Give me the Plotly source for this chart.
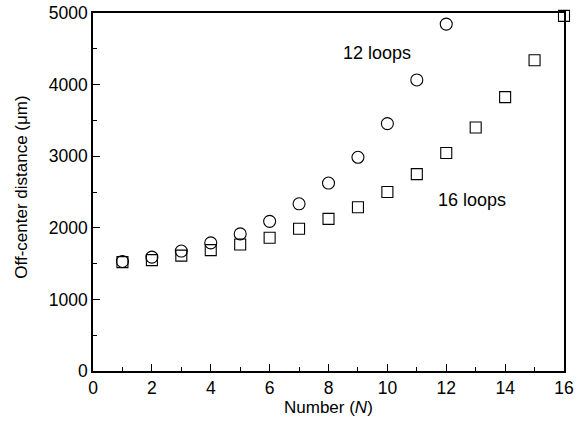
import plotly.graph_objects as go

n_12 = [1, 2, 3, 4, 5, 6, 7, 8, 9, 10, 11, 12]
d_12 = [1530, 1590, 1675, 1790, 1915, 2090, 2335, 2625, 2985, 3455, 4065, 4845]

n_16 = [1, 2, 3, 4, 5, 6, 7, 8, 9, 10, 11, 12, 13, 14, 15, 16]
d_16 = [1520, 1548, 1612, 1688, 1767, 1860, 1986, 2125, 2288, 2500, 2750, 3045, 3400, 3825, 4340, 4960]

x_ticks = [0, 2, 4, 6, 8, 10, 12, 14, 16]
y_ticks = [0, 1000, 2000, 3000, 4000, 5000]

font = "Liberation Sans, Arial, sans-serif"

fig = go.Figure()
fig.add_trace(go.Scatter(
    x=n_12, y=d_12, mode="markers", name="12 loops",
    marker=dict(symbol="circle-open", size=12, color="black", line=dict(width=1.1)),
    cliponaxis=False,
))
fig.add_trace(go.Scatter(
    x=n_16, y=d_16, mode="markers", name="16 loops",
    marker=dict(symbol="square-open", size=11, color="black", line=dict(width=1.1)),
    cliponaxis=False,
))

fig.add_annotation(x=9.64, y=4445, text="12 loops", showarrow=False,
                   font=dict(family=font, size=18, color="black"))
fig.add_annotation(x=12.87, y=2395, text="16 loops", showarrow=False,
                   font=dict(family=font, size=18, color="black"))

# axis titles
fig.add_annotation(xref="paper", yref="paper", x=0.5, y=-0.0, yshift=-36,
                   xanchor="center", yanchor="middle", showarrow=False,
                   text="Number (<i>N</i>)", font=dict(family=font, size=17, color="black"))
fig.add_annotation(xref="paper", yref="paper", x=0.0, xshift=-71, y=0.512,
                   xanchor="center", yanchor="middle", showarrow=False, textangle=-90,
                   text="Off-center distance (μm)", font=dict(family=font, size=17, color="black"))

fig.update_layout(
    width=588, height=433,
    margin=dict(l=93, r=24, t=13, b=62),
    paper_bgcolor="white", plot_bgcolor="white",
    showlegend=False,
    font=dict(family=font, size=17, color="black"),
)
fig.update_xaxes(
    range=[0, 16], tickvals=x_ticks, ticks="inside", ticklen=7, tickwidth=1.3,
    tickcolor="black", showline=True, linewidth=1.5, linecolor="black", mirror=True,
    showgrid=False, zeroline=False, automargin=False,
    minor=dict(dtick=1, tick0=0, ticks="inside", ticklen=4, tickwidth=1.1, tickcolor="black"),
    tickfont=dict(size=17.5),
)
fig.update_yaxes(
    range=[0, 5000], tickvals=y_ticks, ticks="inside", ticklen=7, tickwidth=1.3,
    tickcolor="black", showline=True, linewidth=1.5, linecolor="black", mirror=True,
    showgrid=False, zeroline=False, automargin=False,
    minor=dict(dtick=500, tick0=0, ticks="inside", ticklen=4, tickwidth=1.1, tickcolor="black"),
    tickfont=dict(size=17.5),
)

fig.write_html("out.html")
